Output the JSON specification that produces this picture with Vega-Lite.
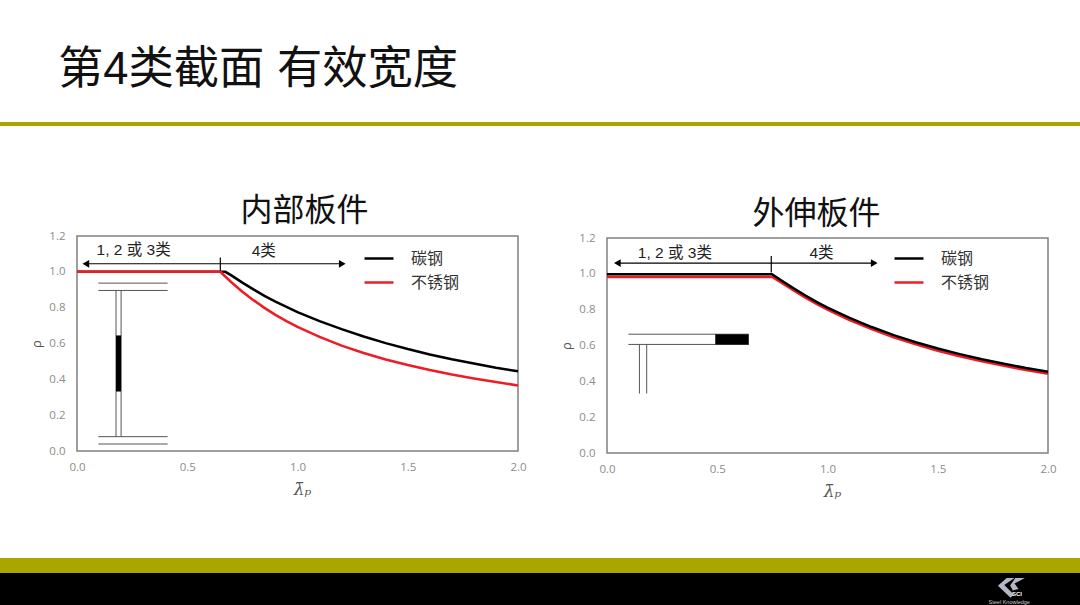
{
  "$schema": "https://vega.github.io/schema/vega-lite/v6.json",
  "padding": 0,
  "background": "white",
  "spacing": 0,
  "bounds": "flush",
  "config": {
    "font": "Noto Sans CJK SC",
    "view": {"stroke": null},
    "axis": {"grid": false, "ticks": false, "domain": false, "labelFlush": false, "labelOverlap": false, "labelColor": "#8c8c8c", "labelFont": "Open Sans", "labelFontSize": 11.5, "titleColor": "#555555", "titleFontWeight": "normal"},
    "legend": {"orient": "none", "title": null, "symbolType": "stroke", "symbolSize": 841, "symbolStrokeWidth": 2.5, "labelFontSize": 16, "labelColor": "#333333", "labelFont": "Noto Sans CJK SC", "labelOffset": 16, "rowPadding": -2, "padding": 0, "legendX": 286, "legendY": 6.5}
  },
  "datasets": {
    "none": [],
    "curvesA": [
      {"x": 0, "y": 1, "series": "碳钢"}, {"x": 0.673, "y": 1, "series": "碳钢"}, {"x": 0.7, "y": 0.98, "series": "碳钢"}, {"x": 0.75, "y": 0.94, "series": "碳钢"}, {"x": 0.8, "y": 0.902, "series": "碳钢"}, {"x": 0.85, "y": 0.866, "series": "碳钢"}, {"x": 0.9, "y": 0.834, "series": "碳钢"}, {"x": 0.95, "y": 0.804, "series": "碳钢"}, {"x": 1, "y": 0.775, "series": "碳钢"}, {"x": 1.1, "y": 0.725, "series": "碳钢"}, {"x": 1.2, "y": 0.68, "series": "碳钢"}, {"x": 1.3, "y": 0.639, "series": "碳钢"}, {"x": 1.4, "y": 0.602, "series": "碳钢"}, {"x": 1.5, "y": 0.569, "series": "碳钢"}, {"x": 1.6, "y": 0.539, "series": "碳钢"}, {"x": 1.7, "y": 0.512, "series": "碳钢"}, {"x": 1.8, "y": 0.488, "series": "碳钢"}, {"x": 1.9, "y": 0.465, "series": "碳钢"}, {"x": 2, "y": 0.445, "series": "碳钢"},
      {"x": 0, "y": 1, "series": "不锈钢"}, {"x": 0.65, "y": 1, "series": "不锈钢"}, {"x": 0.7, "y": 0.942, "series": "不锈钢"}, {"x": 0.75, "y": 0.889, "series": "不锈钢"}, {"x": 0.8, "y": 0.842, "series": "不锈钢"}, {"x": 0.85, "y": 0.799, "series": "不锈钢"}, {"x": 0.9, "y": 0.76, "series": "不锈钢"}, {"x": 0.95, "y": 0.725, "series": "不锈钢"}, {"x": 1, "y": 0.693, "series": "不锈钢"}, {"x": 1.1, "y": 0.637, "series": "不锈钢"}, {"x": 1.2, "y": 0.588, "series": "不锈钢"}, {"x": 1.3, "y": 0.547, "series": "不锈钢"}, {"x": 1.4, "y": 0.511, "series": "不锈钢"}, {"x": 1.5, "y": 0.48, "series": "不锈钢"}, {"x": 1.6, "y": 0.452, "series": "不锈钢"}, {"x": 1.7, "y": 0.427, "series": "不锈钢"}, {"x": 1.8, "y": 0.405, "series": "不锈钢"}, {"x": 1.9, "y": 0.385, "series": "不锈钢"}, {"x": 2, "y": 0.366, "series": "不锈钢"}
    ],
    "curvesB": [
      {"x": 0, "y": 0.983, "series": "不锈钢"}, {"x": 0.75, "y": 0.983, "series": "不锈钢"}, {"x": 0.8, "y": 0.944, "series": "不锈钢"}, {"x": 0.85, "y": 0.904, "series": "不锈钢"}, {"x": 0.9, "y": 0.867, "series": "不锈钢"}, {"x": 0.95, "y": 0.832, "series": "不锈钢"}, {"x": 1, "y": 0.8, "series": "不锈钢"}, {"x": 1.1, "y": 0.742, "series": "不锈钢"}, {"x": 1.2, "y": 0.691, "series": "不锈钢"}, {"x": 1.3, "y": 0.646, "series": "不锈钢"}, {"x": 1.4, "y": 0.606, "series": "不锈钢"}, {"x": 1.5, "y": 0.571, "series": "不锈钢"}, {"x": 1.6, "y": 0.54, "series": "不锈钢"}, {"x": 1.7, "y": 0.512, "series": "不锈钢"}, {"x": 1.8, "y": 0.487, "series": "不锈钢"}, {"x": 1.9, "y": 0.463, "series": "不锈钢"}, {"x": 2, "y": 0.442, "series": "不锈钢"},
      {"x": 0, "y": 0.998, "series": "碳钢"}, {"x": 0.748, "y": 0.998, "series": "碳钢"}, {"x": 0.8, "y": 0.956, "series": "碳钢"}, {"x": 0.85, "y": 0.916, "series": "碳钢"}, {"x": 0.9, "y": 0.879, "series": "碳钢"}, {"x": 0.95, "y": 0.844, "series": "碳钢"}, {"x": 1, "y": 0.812, "series": "碳钢"}, {"x": 1.1, "y": 0.754, "series": "碳钢"}, {"x": 1.2, "y": 0.703, "series": "碳钢"}, {"x": 1.3, "y": 0.658, "series": "碳钢"}, {"x": 1.4, "y": 0.618, "series": "碳钢"}, {"x": 1.5, "y": 0.583, "series": "碳钢"}, {"x": 1.6, "y": 0.552, "series": "碳钢"}, {"x": 1.7, "y": 0.523, "series": "碳钢"}, {"x": 1.8, "y": 0.498, "series": "碳钢"}, {"x": 1.9, "y": 0.474, "series": "碳钢"}, {"x": 2, "y": 0.453, "series": "碳钢"}
    ],
    "partA": [
      {"x": 0.097, "x2": 0.411, "y": 0.937, "y2": 0.937}, {"x": 0.097, "x2": 0.411, "y": 0.896, "y2": 0.896},
      {"x": 0.097, "x2": 0.411, "y": 0.08, "y2": 0.08}, {"x": 0.097, "x2": 0.411, "y": 0.039, "y2": 0.039},
      {"x": 0.177, "x2": 0.177, "y": 0.896, "y2": 0.08}, {"x": 0.2, "x2": 0.2, "y": 0.896, "y2": 0.08}
    ],
    "partB": [
      {"x": 0.097, "x2": 0.643, "y": 0.663, "y2": 0.663}, {"x": 0.097, "x2": 0.643, "y": 0.606, "y2": 0.606},
      {"x": 0.147, "x2": 0.147, "y": 0.606, "y2": 0.332}, {"x": 0.18, "x2": 0.18, "y": 0.606, "y2": 0.332}
    ],
    "blackA": [{"x": 0.177, "x2": 0.2, "y": 0.645, "y2": 0.332}],
    "blackB": [{"x": 0.491, "x2": 0.643, "y": 0.663, "y2": 0.606}],
    "arrowA": [{"x": 0.04, "x2": 1.203, "y": 1.045, "y2": 1.045}],
    "arrowB": [{"x": 0.047, "x2": 1.212, "y": 1.06, "y2": 1.06}],
    "tickA": [{"x": 0.65, "x2": 0.65, "y": 1.08, "y2": 1.0}],
    "tickB": [{"x": 0.745, "x2": 0.745, "y": 1.1, "y2": 1.008}],
    "textA": [{"x": 0.257, "y": 1.123, "label": "1, 2 或 3类"}, {"x": 0.847, "y": 1.115, "label": "4类"}],
    "textB": [{"x": 0.308, "y": 1.116, "label": "1, 2 或 3类"}, {"x": 0.973, "y": 1.116, "label": "4类"}],
    "logo": [{"x": 0.935, "y": 0.55}],
    "logoText": [{"x": 0.9417, "y": 0.34, "label": "SCI"}],
    "logoSub": [{"x": 0.9345, "y": 0.09, "label": "Steel Knowledge"}]
  },
  "vconcat": [
    {
      "width": 1080,
      "height": 122,
      "title": {"text": "第4类截面 有效宽度", "anchor": "start", "frame": "group", "orient": "top", "offset": 0, "dx": 58, "dy": 93, "font": "Liberation Sans, Noto Sans CJK SC", "fontSize": 45.3, "fontWeight": "normal", "color": "#111111"},
      "data": {"name": "none"},
      "mark": "rect",
      "encoding": {}
    },
    {"width": 1080, "height": 4, "view": {"fill": "#a9a600"}, "data": {"name": "none"}, "mark": "rect", "encoding": {}},
    {"width": 1080, "height": 110, "data": {"name": "none"}, "mark": "rect", "encoding": {}},
    {
      "spacing": 0,
      "bounds": "flush",
      "resolve": {"scale": {"color": "independent"}, "legend": {"color": "independent"}},
      "hconcat": [
        {"width": 77, "height": 215, "data": {"name": "none"}, "mark": "rect", "encoding": {}},
        {
          "width": 441,
          "height": 215,
          "view": {"stroke": "#808080", "strokeWidth": 1.5},
          "title": {"text": "内部板件", "font": "Noto Sans CJK SC", "fontSize": 32, "fontWeight": "normal", "color": "#111111", "dx": 7, "offset": 2},
          "encoding": {
            "x": {"field": "x", "type": "quantitative", "scale": {"domain": [0, 2]}, "axis": {"title": "λ̄ₚ", "titleFont": "DejaVu Serif", "titleFontStyle": "italic", "titleFontSize": 17, "titleX": 225, "values": [0, 0.5, 1, 1.5, 2], "format": ".1f", "labelPadding": 10, "titlePadding": 9}},
            "y": {"field": "y", "type": "quantitative", "scale": {"domain": [0, 1.2]}, "axis": {"title": "ρ", "titleFont": "Open Sans", "titleFontSize": 13, "values": [0, 0.2, 0.4, 0.6, 0.8, 1, 1.2], "format": ".1f", "labelPadding": 12, "titlePadding": 5}}
          },
          "layer": [
            {"data": {"name": "partA"}, "mark": {"type": "rule", "color": "#555555", "strokeWidth": 1}, "encoding": {"x2": {"field": "x2"}, "y2": {"field": "y2"}}},
            {"data": {"name": "blackA"}, "mark": {"type": "rect", "color": "black"}, "encoding": {"x2": {"field": "x2"}, "y2": {"field": "y2"}}},
            {"data": {"name": "arrowA"}, "mark": {"type": "rule", "color": "black", "strokeWidth": 1.2}, "encoding": {"x2": {"field": "x2"}}},
            {"data": {"name": "tickA"}, "mark": {"type": "rule", "color": "black", "strokeWidth": 1.2}, "encoding": {"y2": {"field": "y2"}}},
            {"data": {"name": "arrowA"}, "mark": {"type": "point", "shape": "triangle-left", "filled": true, "color": "black", "size": 60, "opacity": 1}},
            {"data": {"name": "arrowA"}, "mark": {"type": "point", "shape": "triangle-right", "filled": true, "color": "black", "size": 60, "opacity": 1}, "encoding": {"x": {"field": "x2", "type": "quantitative"}}},
            {"data": {"name": "textA"}, "mark": {"type": "text", "font": "Liberation Sans, Noto Sans CJK SC", "fontSize": 15.5, "color": "#222222"}, "encoding": {"text": {"field": "label"}}},
            {"data": {"name": "curvesA"}, "mark": {"type": "line", "strokeWidth": 2.5}, "encoding": {"color": {"field": "series", "type": "nominal", "scale": {"domain": ["碳钢", "不锈钢"], "range": ["black", "#ee1c25"]}}}}
          ]
        },
        {"width": 89, "height": 215, "data": {"name": "none"}, "mark": "rect", "encoding": {}},
        {
          "spacing": 0,
          "bounds": "flush",
          "vconcat": [
            {"width": 441, "height": 2, "data": {"name": "none"}, "mark": "rect", "encoding": {}},
            {
              "width": 441,
              "height": 215,
              "view": {"stroke": "#808080", "strokeWidth": 1.5},
              "title": {"text": "外伸板件", "font": "Noto Sans CJK SC", "fontSize": 32, "fontWeight": "normal", "color": "#111111", "dx": -11, "offset": 1},
              "encoding": {
                "x": {"field": "x", "type": "quantitative", "scale": {"domain": [0, 2]}, "axis": {"title": "λ̄ₚ", "titleFont": "DejaVu Serif", "titleFontStyle": "italic", "titleFontSize": 17, "titleX": 225, "values": [0, 0.5, 1, 1.5, 2], "format": ".1f", "labelPadding": 10, "titlePadding": 9}},
                "y": {"field": "y", "type": "quantitative", "scale": {"domain": [0, 1.2]}, "axis": {"title": "ρ", "titleFont": "Open Sans", "titleFontSize": 13, "values": [0, 0.2, 0.4, 0.6, 0.8, 1, 1.2], "format": ".1f", "labelPadding": 12, "titlePadding": 5}}
              },
              "layer": [
                {"data": {"name": "partB"}, "mark": {"type": "rule", "color": "#555555", "strokeWidth": 1}, "encoding": {"x2": {"field": "x2"}, "y2": {"field": "y2"}}},
                {"data": {"name": "blackB"}, "mark": {"type": "rect", "color": "black"}, "encoding": {"x2": {"field": "x2"}, "y2": {"field": "y2"}}},
                {"data": {"name": "arrowB"}, "mark": {"type": "rule", "color": "black", "strokeWidth": 1.2}, "encoding": {"x2": {"field": "x2"}}},
                {"data": {"name": "tickB"}, "mark": {"type": "rule", "color": "black", "strokeWidth": 1.2}, "encoding": {"y2": {"field": "y2"}}},
                {"data": {"name": "arrowB"}, "mark": {"type": "point", "shape": "triangle-left", "filled": true, "color": "black", "size": 60, "opacity": 1}},
                {"data": {"name": "arrowB"}, "mark": {"type": "point", "shape": "triangle-right", "filled": true, "color": "black", "size": 60, "opacity": 1}, "encoding": {"x": {"field": "x2", "type": "quantitative"}}},
                {"data": {"name": "textB"}, "mark": {"type": "text", "font": "Liberation Sans, Noto Sans CJK SC", "fontSize": 15.5, "color": "#222222"}, "encoding": {"text": {"field": "label"}}},
                {"data": {"name": "curvesB"}, "mark": {"type": "line", "strokeWidth": 2.5}, "encoding": {"color": {"field": "series", "type": "nominal", "scale": {"domain": ["碳钢", "不锈钢"], "range": ["black", "#ee1c25"]}}}}
              ]
            }
          ]
        }
      ]
    },
    {"width": 1080, "height": 322, "data": {"name": "none"}, "mark": "rect", "encoding": {}},
    {"width": 1080, "height": 15, "view": {"fill": "#a9a600"}, "data": {"name": "none"}, "mark": "rect", "encoding": {}},
    {
      "width": 1080,
      "height": 32,
      "view": {"fill": "black"},
      "encoding": {
        "x": {"field": "x", "type": "quantitative", "scale": {"domain": [0, 1]}, "axis": null},
        "y": {"field": "y", "type": "quantitative", "scale": {"domain": [0, 1]}, "axis": null}
      },
      "layer": [
        {"data": {"name": "logo"}, "mark": {"type": "point", "filled": true, "opacity": 1, "color": "#b4b6c8", "size": 1000, "shape": "M-0.2 -0.6 L0.3 -0.6 L-0.35 -0.15 L0.25 0.45 L0.05 0.65 L-0.75 -0.1 Z M0.35 -0.6 L0.95 -0.6 L0.3 -0.25 L0.55 0.1 L0.2 0.2 L0.02 -0.12 Z"}},
        {"data": {"name": "logoText"}, "mark": {"type": "text", "font": "Liberation Sans", "fontSize": 6, "fontWeight": "bold", "color": "white"}, "encoding": {"text": {"field": "label"}}},
        {"data": {"name": "logoSub"}, "mark": {"type": "text", "font": "Liberation Sans", "fontSize": 5.5, "color": "#c8c8c8"}, "encoding": {"text": {"field": "label"}}}
      ]
    }
  ]
}
